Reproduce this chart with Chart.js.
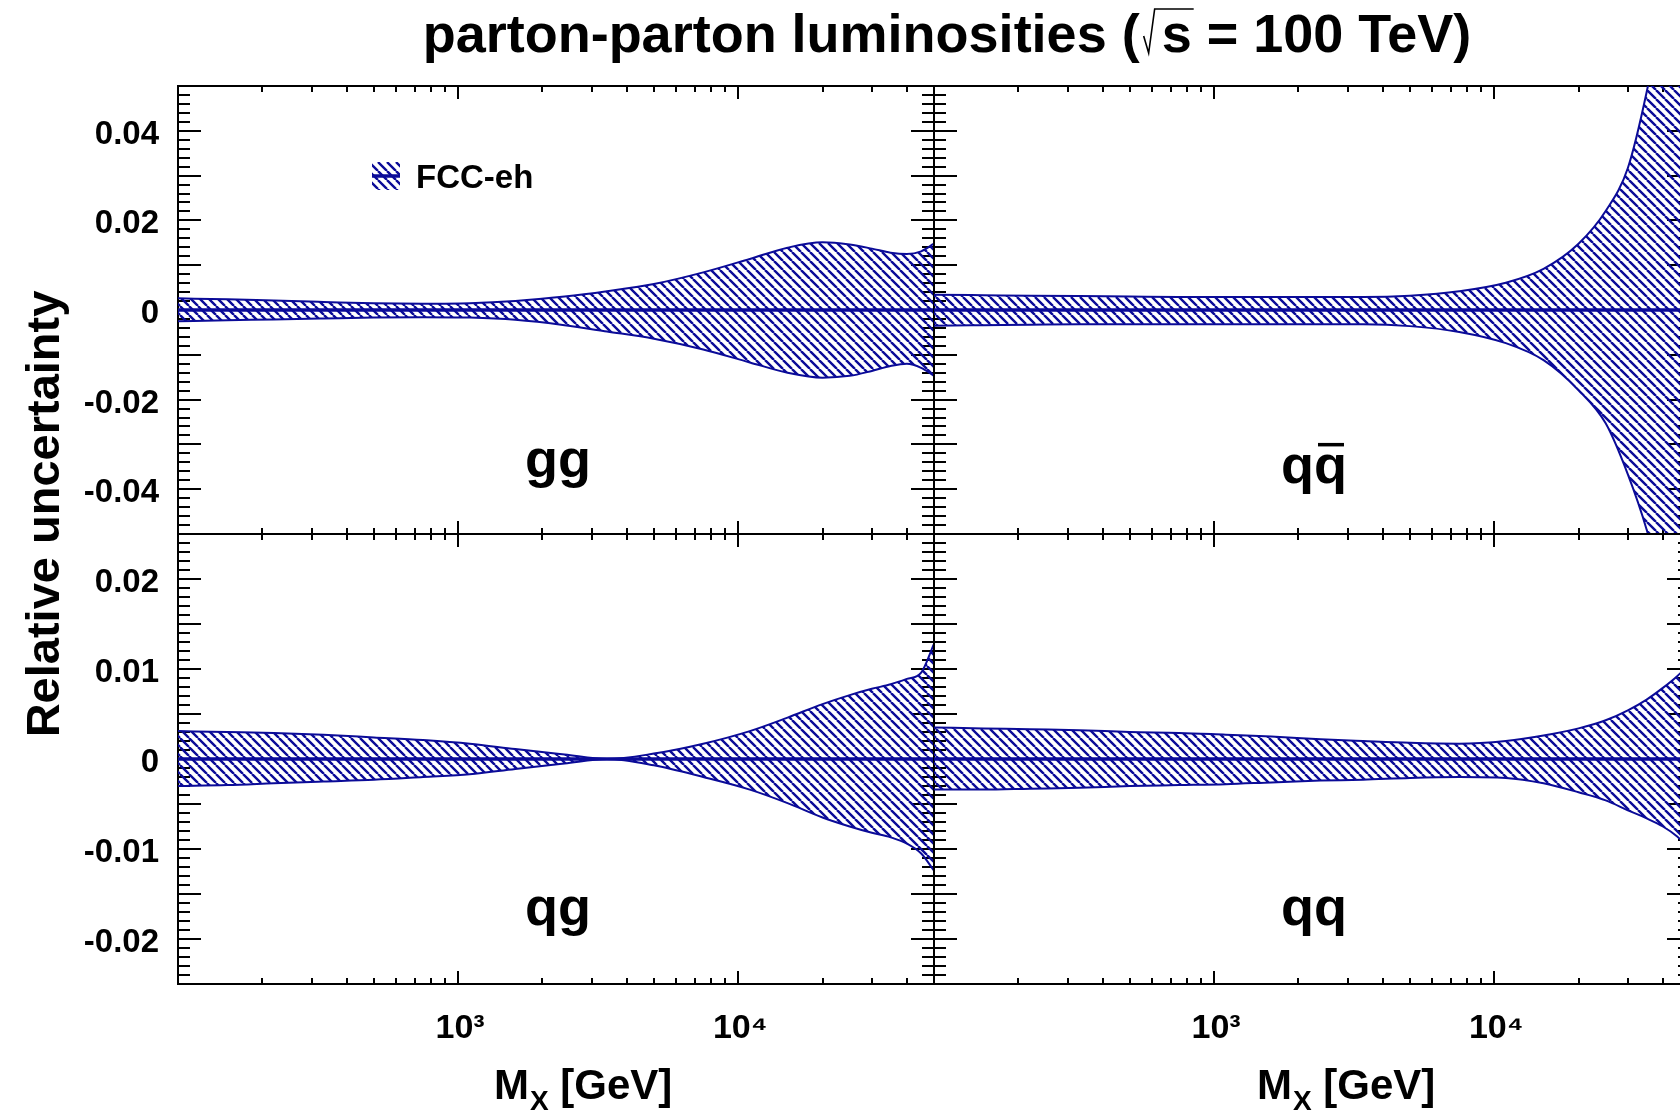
<!DOCTYPE html>
<html>
<head>
<meta charset="utf-8">
<script src="https://cdn.jsdelivr.net/npm/chart.js@4"></script>
<style>
html, body { margin: 0; padding: 0; background: #fff; overflow: hidden; width: 1680px; height: 1110px; }
#wrap { position: relative; width: 1700px; height: 1110px; }
canvas { position: absolute; left: 0; top: 0; }
</style>
</head>
<body>
<div id="wrap">
<canvas id="c0" width="1700" height="1110"></canvas>
<canvas id="c1" width="1700" height="1110"></canvas>
<canvas id="c2" width="1700" height="1110"></canvas>
<canvas id="c3" width="1700" height="1110"></canvas>
</div>
<script>
// ---------------- data ----------------
const masses = [100, 150, 220, 330, 500, 750, 1100, 1600, 2400, 3400, 5000, 7500, 11000, 15000, 20000, 25000, 30000, 35000, 40000, 45000, 50000];

const ggUpper    = [0.0026, 0.0024, 0.0021, 0.0018, 0.0015, 0.0014, 0.0015, 0.0020, 0.0030, 0.0042, 0.0058, 0.0084, 0.0114, 0.0139, 0.0151, 0.0146, 0.0137, 0.0128, 0.0125, 0.0131, 0.0148];
const ggLower    = [-0.0025, -0.0023, -0.0021, -0.0019, -0.0017, -0.0016, -0.0017, -0.0022, -0.0034, -0.0048, -0.0064, -0.0088, -0.0117, -0.0140, -0.0151, -0.0147, -0.0136, -0.0125, -0.0120, -0.0129, -0.0147];

const qqbarUpper = [0.0034, 0.0033, 0.0032, 0.0031, 0.0030, 0.0029, 0.0029, 0.0029, 0.0029, 0.0029, 0.0032, 0.0042, 0.0061, 0.0092, 0.0148, 0.0221, 0.0317, 0.0486, 0.068, 0.090, 0.115];
const qqbarLower = [-0.0035, -0.0034, -0.0033, -0.0032, -0.0032, -0.0032, -0.0032, -0.0032, -0.0032, -0.0032, -0.0036, -0.0049, -0.0074, -0.0112, -0.0179, -0.0253, -0.0367, -0.049, -0.063, -0.080, -0.100];

const qgUpper    = [0.0031, 0.0030, 0.0029, 0.0027, 0.0024, 0.0021, 0.0017, 0.0011, 0.0005, 0.0000, 0.0006, 0.0017, 0.0031, 0.0046, 0.0061, 0.0071, 0.0078, 0.0083, 0.0089, 0.0096, 0.0128];
const qgLower    = [-0.0030, -0.0029, -0.0027, -0.0025, -0.0023, -0.0020, -0.0017, -0.0011, -0.0005, 0.0000, -0.0007, -0.0020, -0.0034, -0.0049, -0.0065, -0.0075, -0.0082, -0.0087, -0.0094, -0.0105, -0.0124];

const qqUpper    = [0.0035, 0.0034, 0.0033, 0.0032, 0.0030, 0.0029, 0.0027, 0.0025, 0.0022, 0.0020, 0.0018, 0.0017, 0.0020, 0.0026, 0.0034, 0.0043, 0.0054, 0.0066, 0.0079, 0.0092, 0.0106];
const qqLower    = [-0.0034, -0.0034, -0.0033, -0.0032, -0.0030, -0.0029, -0.0028, -0.0026, -0.0024, -0.0023, -0.0021, -0.0020, -0.0021, -0.0027, -0.0037, -0.0046, -0.0057, -0.0066, -0.0075, -0.0086, -0.0100];

const centralValues = [0, 0];
const centralMasses = [100, 50000];

const xMajorTicks  = [1000, 10000];
const xMajorLabels = ['10³', '10⁴'];
const xMinorTicks  = [200, 300, 400, 500, 600, 700, 800, 900, 2000, 3000, 4000, 5000, 6000, 7000, 8000, 9000, 20000, 30000, 40000];

const topYLabelValues = [-0.04, -0.02, 0, 0.02, 0.04];
const topYLabels      = ['-0.04', '-0.02', '0', '0.02', '0.04'];
const botYLabelValues = [-0.02, -0.01, 0, 0.01, 0.02];
const botYLabels      = ['-0.02', '-0.01', '0', '0.01', '0.02'];

const panelNames  = ['gg', 'qq', 'qg', 'qq'];
const panelBars   = [false, true, false, false];
const legendLabel = 'FCC-eh';
const titleParts  = ['parton-parton luminosities (', 's', ' = 100 TeV)'];
const yTitle      = 'Relative uncertainty';
const xTitleParts = ['M', 'X', ' [GeV]'];

// ---------------- styling ----------------
const BLUE = '#0b0b98';
const FAM = '"Liberation Sans", Arial, Helvetica, sans-serif';
const bold = sz => `bold ${sz}px ${FAM}`;
const W = 1700, H = 1110;
const LABEL_BOX_Y = 150;   // width reserved for the y tick-label box
const LABEL_BOX_X = 100;   // height reserved for the x tick-label box

Chart.defaults.font.family = FAM;
Chart.defaults.animation = false;

function makeHatch(ctx) {
  const p = 9;
  const c = document.createElement('canvas');
  c.width = p; c.height = p;
  const g = c.getContext('2d');
  g.strokeStyle = BLUE; g.lineWidth = 2.4;
  g.beginPath();
  for (let k = -1; k <= 1; k++) { g.moveTo(k * p, 0); g.lineTo(k * p + p, p); }
  g.stroke();
  return ctx.createPattern(c, 'repeat');
}

function stepTicks(range, step, skipEvery) {
  const n = Math.round(range / step);
  const out = [];
  for (let i = -n; i <= n; i++) {
    if (skipEvery && i % skipEvery === 0) continue;
    out.push(+(i * step).toFixed(6));
  }
  return out;
}

function axis(pos, type, min, max, values, len, opts) {
  const horiz = (pos === 'top' || pos === 'bottom');
  const o = opts || {};
  const boxSize = o.callback ? (horiz ? LABEL_BOX_X : LABEL_BOX_Y) : 0;
  return {
    type, position: pos, min, max,
    weight: o.callback ? 10 : 0,
    afterBuildTicks: s => { s.ticks = values.map(v => ({ value: v })); },
    afterFit: s => { if (horiz) s.height = boxSize; else s.width = boxSize; },
    grid: { display: true, drawOnChartArea: false, drawTicks: true, tickLength: -len,
            color: '#000', lineWidth: 2, tickWidth: 2 },
    border: { display: true, color: '#000', width: 2 },
    ticks: {
      display: !!o.callback, autoSkip: false, maxRotation: 0, minRotation: 0,
      padding: o.padding || 0, labelOffset: o.offset || 0, color: '#000',
      font: { size: o.size || 30, weight: 'bold', family: FAM },
      callback: o.callback || (() => '')
    }
  };
}

const panels = [
  { id: 'c0', upper: ggUpper,    lower: ggLower,    yr: 0.05,  maj: 0.01,  min: 0.002, lv: topYLabelValues, lt: topYLabels, showY: true,  showX: false, l: 178, t: 86,  r: 934,  b: 534 },
  { id: 'c1', upper: qqbarUpper, lower: qqbarLower, yr: 0.05,  maj: 0.01,  min: 0.002, lv: topYLabelValues, lt: topYLabels, showY: false, showX: false, l: 934, t: 86,  r: 1690, b: 534 },
  { id: 'c2', upper: qgUpper,    lower: qgLower,    yr: 0.025, maj: 0.005, min: 0.001, lv: botYLabelValues, lt: botYLabels, showY: true,  showX: true,  l: 178, t: 534, r: 934,  b: 984 },
  { id: 'c3', upper: qqUpper,    lower: qqLower,    yr: 0.025, maj: 0.005, min: 0.001, lv: botYLabelValues, lt: botYLabels, showY: false, showX: true,  l: 934, t: 534, r: 1690, b: 984 }
];

function drawPanelLabel(ctx, idx, area) {
  ctx.save();
  ctx.fillStyle = '#000';
  ctx.font = bold(54);
  ctx.textAlign = 'center';
  ctx.textBaseline = 'alphabetic';
  const cx = (area.left + area.right) / 2 + 2;
  const base = area.top + (panelBars[idx] ? 397 : 391);
  const txt = panelNames[idx];
  ctx.fillText(txt, cx, base);
  if (panelBars[idx]) {
    const w = ctx.measureText(txt).width;
    const wq = ctx.measureText(txt[1]).width;
    const x1 = cx + w / 2 - wq + 4, x2 = cx + w / 2 - 3;
    ctx.fillRect(x1, base - 54 * 0.52 - 12, x2 - x1, 3.5);
  }
  ctx.restore();
}

function drawLegend(ctx, area, hatch) {
  ctx.save();
  const x = area.left + 194, y = area.top + 76, s = 28;
  ctx.fillStyle = hatch;
  ctx.fillRect(x, y, s, s);
  ctx.strokeStyle = BLUE; ctx.lineWidth = 3.5;
  ctx.beginPath(); ctx.moveTo(x, y + s / 2); ctx.lineTo(x + s, y + s / 2); ctx.stroke();
  ctx.fillStyle = '#000';
  ctx.font = bold(33);
  ctx.textAlign = 'left'; ctx.textBaseline = 'alphabetic';
  ctx.fillText(legendLabel, x + 44, y + 26);
  ctx.restore();
}

function drawTitles(ctx) {
  ctx.save();
  ctx.fillStyle = '#000';
  ctx.strokeStyle = '#000';
  ctx.textAlign = 'left'; ctx.textBaseline = 'alphabetic';
  // main title
  ctx.font = bold(54);
  const base = 52;
  const w1 = ctx.measureText(titleParts[0]).width;
  const w2 = ctx.measureText(titleParts[1]).width;
  const w3 = ctx.measureText(titleParts[2]).width;
  const rad = 22;
  const total = w1 + rad + w2 + w3;
  let x = 947 - total / 2;
  ctx.fillText(titleParts[0], x, base);
  x += w1;
  ctx.lineWidth = 1.6;
  ctx.beginPath();
  ctx.moveTo(x + 4, base - 16);
  ctx.lineTo(x + 9, base + 1);
  ctx.lineTo(x + 15, 9);
  ctx.lineTo(x + rad + w2 + 2, 9);
  ctx.stroke();
  ctx.fillText(titleParts[1], x + rad, base);
  x += rad + w2;
  ctx.fillText(titleParts[2], x, base);
  // y title
  ctx.save();
  ctx.font = bold(47);
  ctx.textAlign = 'center';
  ctx.translate(59, 514);
  ctx.rotate(-Math.PI / 2);
  ctx.fillText(yTitle, 0, 0);
  ctx.restore();
  // x titles
  [494, 1257].forEach(x0 => {
    ctx.font = bold(42);
    ctx.fillText(xTitleParts[0], x0, 1099);
    const wm = ctx.measureText(xTitleParts[0]).width;
    ctx.font = bold(28);
    ctx.fillText(xTitleParts[1], x0 + wm + 1, 1110);
    const wx = ctx.measureText(xTitleParts[1]).width;
    ctx.font = bold(42);
    ctx.fillText(xTitleParts[2], x0 + wm + 1 + wx, 1099);
  });
  ctx.restore();
}

panels.forEach((p, idx) => {
  const canvas = document.getElementById(p.id);
  const ctx = canvas.getContext('2d');
  const hatch = makeHatch(ctx);
  const majT = stepTicks(p.yr, p.maj, 0);
  const minT = stepTicks(p.yr, p.min, Math.round(p.maj / p.min));
  const yLab = v => { const k = p.lv.findIndex(l => Math.abs(l - v) < 1e-9); return k >= 0 ? p.lt[k] : ''; };
  const xLab = (v, i) => xMajorLabels[i];

  const scales = {
    x:   axis('bottom', 'logarithmic', 100, 50000, xMajorTicks, 13, p.showX ? { callback: xLab, padding: 37, size: 34, offset: 2 } : null),
    xm:  axis('bottom', 'logarithmic', 100, 50000, xMinorTicks, 6),
    xt:  axis('top',    'logarithmic', 100, 50000, xMajorTicks, 13),
    xtm: axis('top',    'logarithmic', 100, 50000, xMinorTicks, 6),
    y:   axis('left',  'linear', -p.yr, p.yr, majT, 23, p.showY ? { callback: yLab, padding: 42, size: 33, offset: 4 } : null),
    ym:  axis('left',  'linear', -p.yr, p.yr, minT, 12),
    yr:  axis('right', 'linear', -p.yr, p.yr, majT, 23),
    yrm: axis('right', 'linear', -p.yr, p.yr, minT, 12)
  };

  const pts = arr => masses.map((m, i) => ({ x: m, y: arr[i] }));
  const padL = p.l - (p.showY ? LABEL_BOX_Y : 0);
  const padB = (H - p.b) - (p.showX ? LABEL_BOX_X : 0);

  new Chart(ctx, {
    type: 'line',
    data: {
      datasets: [
        { data: pts(p.upper), borderColor: BLUE, borderWidth: 2, backgroundColor: hatch, fill: '+1',
          pointRadius: 0, cubicInterpolationMode: 'monotone', clip: 0, xAxisID: 'x', yAxisID: 'y' },
        { data: pts(p.lower), borderColor: BLUE, borderWidth: 2, fill: false,
          pointRadius: 0, cubicInterpolationMode: 'monotone', clip: 0, xAxisID: 'x', yAxisID: 'y' },
        { data: centralMasses.map((m, i) => ({ x: m, y: centralValues[i] })), borderColor: BLUE, borderWidth: 3.5,
          fill: false, pointRadius: 0, order: -1, clip: 0, xAxisID: 'x', yAxisID: 'y' }
      ]
    },
    options: {
      responsive: false,
      maintainAspectRatio: false,
      devicePixelRatio: 1,
      animation: false,
      events: [],
      layout: { autoPadding: false, padding: { left: padL, top: p.t, right: W - p.r, bottom: padB } },
      plugins: { legend: { display: false }, tooltip: { enabled: false }, title: { display: false } },
      scales
    },
    plugins: [{
      id: 'texts' + idx,
      afterDraw(chart) {
        const c = chart.ctx;
        drawPanelLabel(c, idx, chart.chartArea);
        if (idx === 0) { drawLegend(c, chart.chartArea, hatch); drawTitles(c); }
      }
    }]
  });
});
</script>
</body>
</html>
